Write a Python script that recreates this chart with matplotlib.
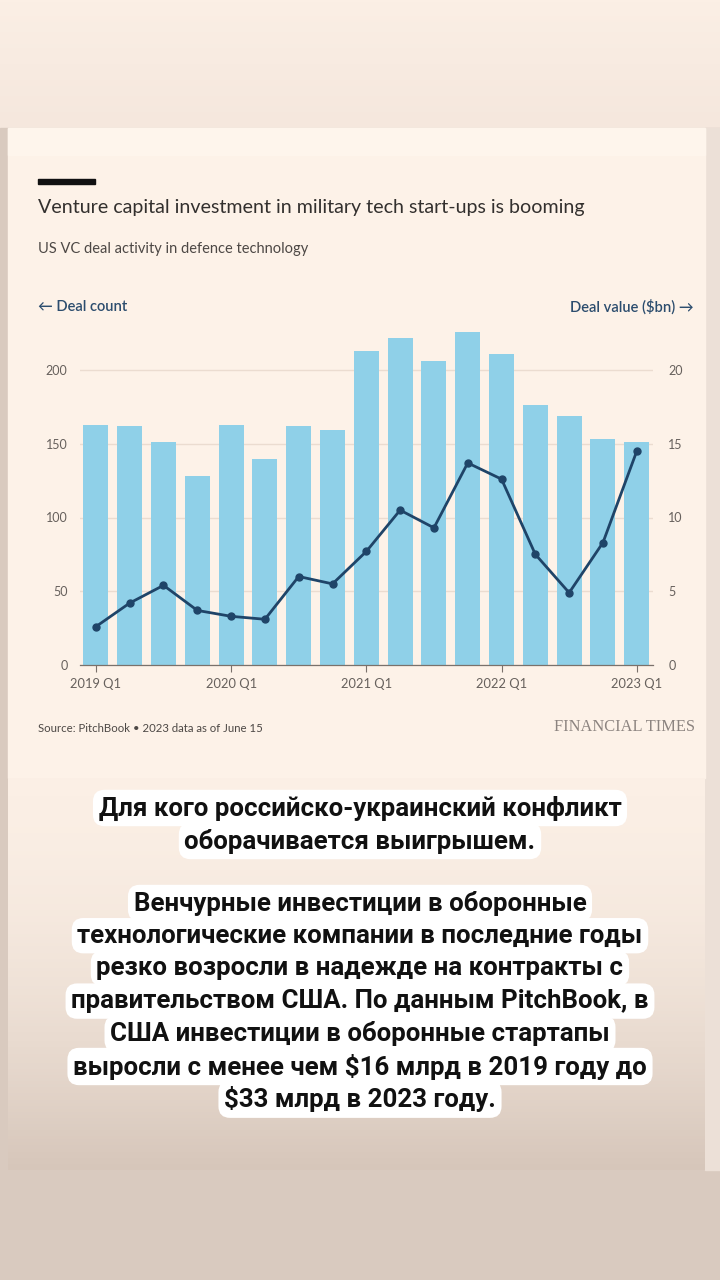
import numpy as np
import matplotlib
matplotlib.use("Agg")
import matplotlib.pyplot as plt
from matplotlib.patches import Rectangle

plt.rcParams['font.family'] = ['Lato', 'DejaVu Sans']

# data
quarters = ['2019 Q1', '2019 Q2', '2019 Q3', '2019 Q4',
            '2020 Q1', '2020 Q2', '2020 Q3', '2020 Q4',
            '2021 Q1', '2021 Q2', '2021 Q3', '2021 Q4',
            '2022 Q1', '2022 Q2', '2022 Q3', '2022 Q4',
            '2023 Q1']
deal_count = [163, 162, 151, 128, 163, 140, 162, 159,
              213, 222, 206, 226, 211, 176, 169, 153, 151]
deal_value = [2.6, 4.2, 5.4, 3.7, 3.3, 3.1, 6.0, 5.5,
              7.7, 10.5, 9.3, 13.7, 12.6, 7.5, 4.9, 8.3, 14.5]
tick_labels = ['2019 Q1', '2020 Q1', '2021 Q1', '2022 Q1', '2023 Q1']
left_ticks = [0, 50, 100, 150, 200]
right_ticks = [0, 5, 10, 15, 20]

title = 'Venture capital investment in military tech start-ups is booming'
subtitle = 'US VC deal activity in defence technology'
source = 'Source: PitchBook \u2022 2023 data as of June 15'

headline = ['Для кого российско-украинский конфликт',
            'оборачивается выигрышем.']
body = ['Венчурные инвестиции в оборонные',
        'технологические компании в последние годы',
        'резко возросли в надежде на контракты с',
        'правительством США. По данным PitchBook, в',
        'США инвестиции в оборонные стартапы',
        'выросли с менее чем $16 млрд в 2019 году до',
        '$33 млрд в 2023 году.']

W, H = 720, 1280
fig = plt.figure(figsize=(W / 100, H / 100), dpi=100)

def fx(px):
    return px / W

def fy(py):
    return 1 - py / H

# background: outer frame, card, gradient at the bottom of the card
bg = fig.add_axes([0, 0, 1, 1], zorder=-10)
bg.set_xlim(0, W)
bg.set_ylim(H, 0)
bg.axis('off')
top_grad = np.linspace(0, 1, 64).reshape(-1, 1)
bg.imshow(top_grad, extent=(0, W, 128, 0), aspect='auto',
          cmap=matplotlib.colors.LinearSegmentedColormap.from_list('t', ['#fbefe5', '#f5e7dd']))
bg.add_patch(Rectangle((0, 128), W, H - 128, color='#d9cabf', zorder=0))
bg.add_patch(Rectangle((705, 128), 15, 1042, color='#ece0d7', zorder=1))
bg.add_patch(Rectangle((8, 128), 697, 650, color='#fdf2e8', zorder=2))
bg.add_patch(Rectangle((8, 128), 697, 27, color='#fef5ec', zorder=3))
low_grad = np.linspace(0, 1, 128).reshape(-1, 1) ** 1.8
bg.imshow(low_grad, extent=(8, 705, 1170, 778), aspect='auto', zorder=2,
          cmap=matplotlib.colors.LinearSegmentedColormap.from_list('b', ['#fbefe5', '#d6c6ba']))
bg.add_patch(Rectangle((38, 179), 57, 4.5, color='#111111', zorder=4))

# chart
x = np.arange(len(quarters))
px_per_unit = 295 / 200
ymax = 230
ax = fig.add_axes([fx(80), fy(665), fx(653) - fx(80), ymax * px_per_unit / H])
ax.set_facecolor('none')
ax.bar(x, deal_count, width=0.74, color='#8fd0e8', zorder=2)
ax.set_xlim(-0.47, 16.48)
ax.set_ylim(0, ymax)
ax.set_yticks(left_ticks)
ax.yaxis.grid(True, color='#ebdcd0', linewidth=1.0, zorder=0)
ax.set_axisbelow(True)
for s in ['top', 'right', 'left']:
    ax.spines[s].set_visible(False)
ax.spines['bottom'].set_color('#7a716b')
ax.spines['bottom'].set_linewidth(0.9)
ax.set_xticks([quarters.index(t) for t in tick_labels])
ax.set_xticklabels(tick_labels)
ax.tick_params(axis='x', length=5, width=0.8, color='#7a716b', pad=4,
               labelsize=9.3, labelcolor='#66605c')
ax.tick_params(axis='y', length=0, pad=9, labelsize=9.0, labelcolor='#66605c')

ax2 = ax.twinx()
ax2.plot(x, deal_value, color='#1f4468', linewidth=2.0, marker='o',
         markersize=5, zorder=3)
ax2.set_ylim(0, ymax / 10)
ax2.set_yticks(right_ticks)
for s in ['top', 'right', 'left', 'bottom']:
    ax2.spines[s].set_visible(False)
ax2.tick_params(axis='y', length=0, pad=11, labelsize=9.0, labelcolor='#66605c')

# FT header texts
fig.text(fx(38), fy(207), title, fontsize=14.1, color='#33302e',
         va='center', ha='left')
fig.text(fx(38), fy(249), subtitle, fontsize=10.5, color='#4d4845',
         va='center', ha='left')
fig.text(fx(38), fy(307), '\u2190 Deal count', fontsize=10.6, color='#2c4d6e',
         va='center', ha='left', fontweight='semibold')
fig.text(fx(694), fy(307), 'Deal value ($bn) \u2192', fontsize=10.6, color='#2c4d6e',
         va='center', ha='right', fontweight='semibold')
fig.text(fx(38), fy(728), source, fontsize=8.2, color='#4d4845',
         va='center', ha='left')
fig.text(fx(695), fy(727), 'FINANCIAL TIMES', fontsize=11.8, color='#8c8480',
         va='center', ha='right', family=['Liberation Serif', 'DejaVu Serif'])

# Russian caption in white boxes
box = dict(boxstyle='round,pad=0.22,rounding_size=0.45', facecolor='white',
           edgecolor='none')
for i, line in enumerate(headline):
    fig.text(0.5, fy(808 + i * 33), line, fontsize=18.6, fontweight='bold',
             color='#111111', ha='center', va='center', family=['Roboto', 'DejaVu Sans'],
             bbox=box)
for i, line in enumerate(body):
    fig.text(0.5, fy(903 + i * 32.7), line, fontsize=18.6, fontweight='bold',
             color='#111111', ha='center', va='center', family=['Roboto', 'DejaVu Sans'],
             bbox=box)

fig.savefig('out.png', dpi=100)
